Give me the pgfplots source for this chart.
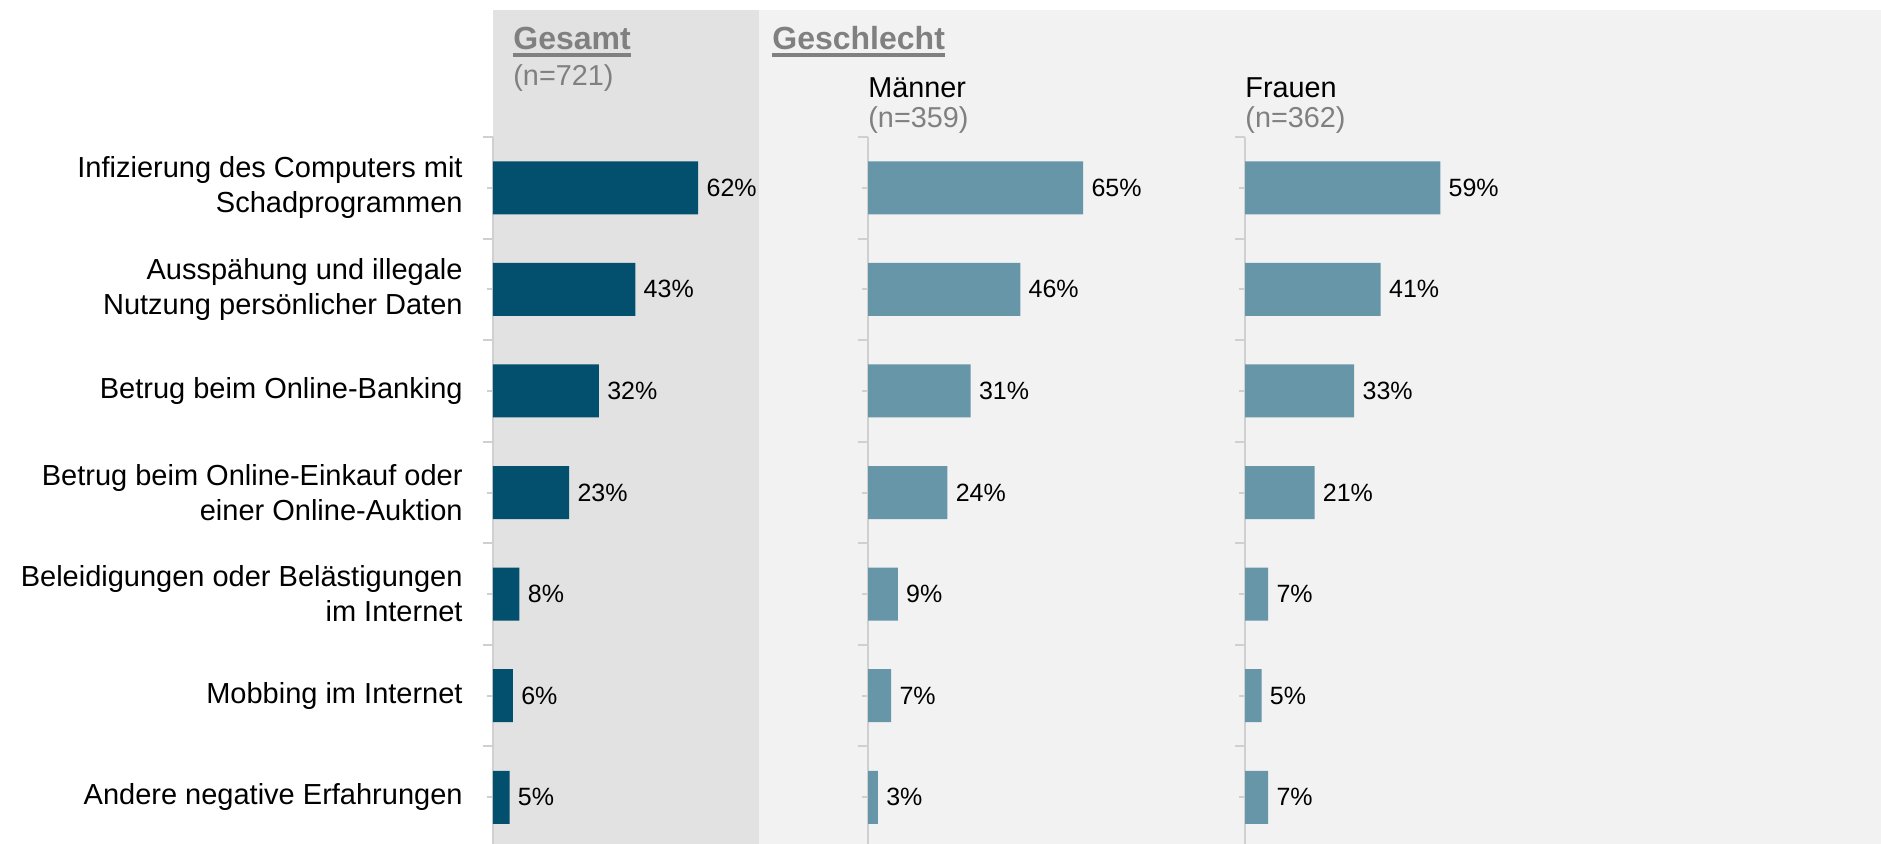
\documentclass[border=0pt]{standalone}
\usepackage{fontspec}
\setmainfont{Liberation Sans}
\usepackage{pgfplots}
\pgfplotsset{compat=1.18}
\definecolor{dark}{HTML}{03506E}
\definecolor{light}{HTML}{6696A8}
\definecolor{panelA}{HTML}{E2E2E2}
\definecolor{panelB}{HTML}{F2F2F2}
\definecolor{axgray}{HTML}{D0D0D0}
\definecolor{hdgray}{HTML}{808080}
\pgfplotsset{
  panel/.style={
    xbar, scale only axis, width=132.4pt, height=353.5pt,
    xmin=0, xmax=80, ymin=-0.5, ymax=6.46, y dir=reverse,
    axis x line=none, axis y line=left,
    y axis line style={-, draw=axgray, line width=1pt},
    ytick={0,...,6}, minor ytick={-0.5,0.5,...,6.5},
    tick align=outside, major tick length=3pt, minor tick length=5pt,
    tick style={axgray, line width=1pt},
    bar width=26.5pt, clip=false,
    /pgf/number format/assume math mode=true,
    point meta=x,
    nodes near coords={\pgfmathprintnumber{\pgfplotspointmeta}\%},
    nodes near coords align=horizontal,
    every node near coord/.append style={font=\fontsize{12.5}{15}\selectfont, text=black, inner sep=0pt, xshift=4pt, anchor=west},
  }
}
\begin{document}
\begin{tikzpicture}
\useasboundingbox (0,0) rectangle (940.5pt,422pt);
\fill[white] (0,0) rectangle (940.5pt,422pt);
\fill[panelA] (246.5pt,0) rectangle (379.5pt,417pt);
\fill[panelB] (379.5pt,0) rectangle (940.5pt,417pt);

\begin{axis}[panel, at={(246.5pt,353.5pt)}, anchor=north west,
  yticklabels={{Infizierung des Computers mit\\Schadprogrammen},
               {Ausspähung und illegale\\Nutzung persönlicher Daten},
               {Betrug beim Online-Banking},
               {Betrug beim Online-Einkauf oder\\einer Online-Auktion},
               {Beleidigungen oder Belästigungen\\im Internet},
               {Mobbing im Internet},
               {Andere negative Erfahrungen}},
  yticklabel style={align=right, anchor=east, inner sep=0pt, xshift=-12pt,
    font=\fontsize{14.5}{17.5}\selectfont},
]
\addplot[fill=dark, draw=none] coordinates {(62,0) (43,1) (32,2) (23,3) (8,4) (6,5) (5,6)};
\end{axis}

\begin{axis}[panel, at={(434pt,353.5pt)}, anchor=north west,
  yticklabels={{},{},{},{},{},{},{}}]
\addplot[fill=light, draw=none] coordinates {(65,0) (46,1) (31,2) (24,3) (9,4) (7,5) (3,6)};
\end{axis}

\begin{axis}[panel, at={(622.5pt,353.5pt)}, anchor=north west,
  yticklabels={{},{},{},{},{},{},{}}]
\addplot[fill=light, draw=none] coordinates {(59,0) (41,1) (33,2) (21,3) (7,4) (5,5) (7,6)};
\end{axis}

% headers
\node[anchor=base west, inner sep=0pt, text=hdgray, font=\fontsize{16}{19}\selectfont\bfseries] (g1) at (256.5pt,397pt) {Gesamt};
\draw[hdgray, line width=2pt] ([yshift=-2.5pt]g1.base west) -- ([yshift=-2.5pt]g1.base east);
\node[anchor=base west, inner sep=0pt, text=hdgray, font=\fontsize{14.4}{17}\selectfont] at (256.5pt,379pt) {(n=721)};
\node[anchor=base west, inner sep=0pt, text=hdgray, font=\fontsize{16}{19}\selectfont\bfseries] (g2) at (386pt,397pt) {Geschlecht};
\draw[hdgray, line width=2pt] ([yshift=-2.5pt]g2.base west) -- ([yshift=-2.5pt]g2.base east);
\node[anchor=base west, inner sep=0pt, text=black, font=\fontsize{14.4}{17}\selectfont] at (434pt,373pt) {Männer};
\node[anchor=base west, inner sep=0pt, text=hdgray, font=\fontsize{14.4}{17}\selectfont] at (434pt,358pt) {(n=359)};
\node[anchor=base west, inner sep=0pt, text=black, font=\fontsize{14.4}{17}\selectfont] at (622.5pt,373pt) {Frauen};
\node[anchor=base west, inner sep=0pt, text=hdgray, font=\fontsize{14.4}{17}\selectfont] at (622.5pt,358pt) {(n=362)};
\end{tikzpicture}
\end{document}
